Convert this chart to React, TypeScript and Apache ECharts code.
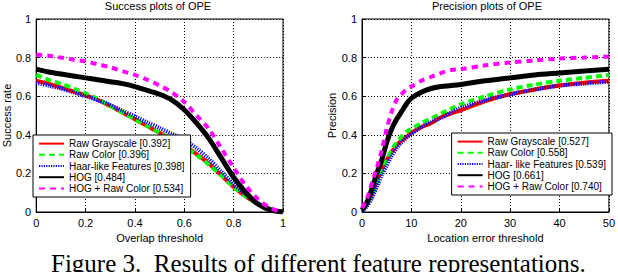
import React, { useEffect, useRef } from "react";
import * as echarts from "echarts";

// Success plot (overlap threshold)
const overlapThresholds = [0, 0.05, 0.1, 0.15, 0.2, 0.25, 0.3, 0.35, 0.4, 0.45, 0.5, 0.55, 0.6, 0.65, 0.7, 0.75, 0.8, 0.85, 0.9, 0.95, 1];
const succRawGray = [0.68, 0.665, 0.645, 0.625, 0.605, 0.58, 0.55, 0.515, 0.48, 0.445, 0.41, 0.38, 0.345, 0.3, 0.25, 0.19, 0.13, 0.08, 0.04, 0.015, 0];
const succRawColor = [0.71, 0.685, 0.665, 0.64, 0.615, 0.585, 0.55, 0.515, 0.48, 0.445, 0.41, 0.375, 0.34, 0.295, 0.245, 0.19, 0.13, 0.08, 0.04, 0.015, 0];
const succHaar = [0.67, 0.655, 0.64, 0.62, 0.6, 0.58, 0.555, 0.525, 0.495, 0.465, 0.435, 0.405, 0.375, 0.33, 0.275, 0.21, 0.145, 0.09, 0.045, 0.015, 0];
const succHog = [0.74, 0.725, 0.715, 0.705, 0.695, 0.685, 0.675, 0.665, 0.65, 0.63, 0.61, 0.58, 0.53, 0.46, 0.38, 0.28, 0.18, 0.1, 0.04, 0.01, 0];
const succHogRaw = [0.815, 0.81, 0.8, 0.79, 0.78, 0.765, 0.75, 0.73, 0.71, 0.685, 0.655, 0.62, 0.57, 0.5, 0.43, 0.33, 0.23, 0.135, 0.065, 0.02, 0];

// Precision plot (location error threshold)
const errorThresholds = [0, 1, 2, 3, 4, 5, 6, 7, 8, 9, 10, 12, 14, 16, 18, 20, 25, 30, 35, 40, 45, 50];
const precRawGray = [0.01, 0.04, 0.09, 0.16, 0.22, 0.27, 0.31, 0.345, 0.37, 0.39, 0.41, 0.44, 0.46, 0.49, 0.51, 0.527, 0.575, 0.61, 0.635, 0.655, 0.67, 0.68];
const precRawColor = [0.01, 0.04, 0.09, 0.15, 0.21, 0.27, 0.32, 0.36, 0.39, 0.415, 0.43, 0.46, 0.485, 0.51, 0.535, 0.558, 0.6, 0.635, 0.66, 0.68, 0.695, 0.71];
const precHaar = [0.005, 0.03, 0.07, 0.13, 0.19, 0.24, 0.29, 0.33, 0.36, 0.385, 0.405, 0.44, 0.465, 0.49, 0.515, 0.539, 0.58, 0.61, 0.635, 0.655, 0.665, 0.675];
const precHog = [0.01, 0.05, 0.12, 0.2, 0.27, 0.36, 0.43, 0.48, 0.52, 0.56, 0.59, 0.62, 0.64, 0.65, 0.655, 0.661, 0.68, 0.695, 0.71, 0.72, 0.73, 0.74];
const precHogRaw = [0.02, 0.07, 0.15, 0.23, 0.32, 0.43, 0.52, 0.58, 0.61, 0.635, 0.65, 0.68, 0.7, 0.72, 0.735, 0.74, 0.76, 0.775, 0.785, 0.795, 0.8, 0.805];

const successNames = ["Raw Grayscale [0.392]", "Raw Color [0.396]", "Haar-like Features [0.398]", "HOG [0.484]", "HOG + Raw Color [0.534]"];
const precisionNames = ["Raw Grayscale [0.527]", "Raw Color [0.558]", "Haar- like Features [0.539]", "HOG [0.661]", "HOG + Raw Color [0.740]"];
const successValues = [succRawGray, succRawColor, succHaar, succHog, succHogRaw];
const precisionValues = [precRawGray, precRawColor, precHaar, precHog, precHogRaw];

const colors = ["#ff0000", "#00ff00", "#0000ff", "#000000", "#ff00ff"];
const dashTypes: any[] = ["solid", [6, 4], [1.2, 1.2], "solid", [6, 5]];
const widths = [4, 4, 4, 5, 4];

const FONT = "Liberation Sans";

export default function App() {
  const ref = useRef<HTMLDivElement>(null);
  useEffect(() => {
    if (!ref.current) return;
    const chart = echarts.init(ref.current, null, { renderer: "svg" });

    const mkSeries = (names: string[], values: number[][], xs: number[], idx: number) =>
      names.map((name, i) => ({
        name,
        type: "line",
        xAxisIndex: idx,
        yAxisIndex: idx,
        data: xs.map((x, j) => [x, values[i][j]]),
        symbol: "circle",
        showSymbol: false,
        smooth: 0.3,
        color: colors[i],
        lineStyle: { color: colors[i], width: widths[i], type: dashTypes[i] },
      }));

    const axisCommon = {
      type: "value",
      axisLine: { show: true, onZero: false, lineStyle: { color: "#000", width: 1 } },
      axisTick: { show: true, inside: true, length: 4, lineStyle: { color: "#000" } },
      splitLine: { show: true, lineStyle: { color: "#000", type: [1, 2], width: 1 } },
      axisLabel: { color: "#000", fontSize: 11, fontFamily: FONT, margin: 5 },
      nameTextStyle: { color: "#000", fontSize: 11, fontFamily: FONT },
      nameLocation: "middle",
    };

    const legendCommon = {
      orient: "vertical",
      itemGap: 0,
      itemWidth: 25,
      itemHeight: 14,
      padding: [3, 6, 3, 5],
      borderColor: "#000",
      borderWidth: 1,
      borderRadius: 0,
      backgroundColor: "#fff",
      selectedMode: false,
      itemStyle: { opacity: 0, borderWidth: 0 },
      textStyle: { color: "#000", fontSize: 10, fontFamily: FONT },
    };

    chart.setOption({
      animation: false,
      backgroundColor: "#fff",
      grid: [
        { left: 33, top: 19, width: 250, height: 193, show: true, borderColor: "#000", borderWidth: 1, backgroundColor: "transparent" },
        { left: 362, top: 19, width: 250, height: 193, show: true, borderColor: "#000", borderWidth: 1, backgroundColor: "transparent" },
      ],
      xAxis: [
        { ...axisCommon, gridIndex: 0, min: 0, max: 1, interval: 0.2, name: "Overlap threshold", nameGap: 15 },
        { ...axisCommon, gridIndex: 1, min: 0, max: 50, interval: 10, name: "Location error threshold", nameGap: 15 },
      ],
      yAxis: [
        { ...axisCommon, gridIndex: 0, min: 0, max: 1, interval: 0.2, name: "Success rate", nameGap: 21 },
        { ...axisCommon, gridIndex: 1, min: 0, max: 1, interval: 0.2, name: "Precision", nameGap: 24 },
      ],
      legend: [
        { ...legendCommon, left: 33, top: 135, data: successNames },
        { ...legendCommon, right: 6, top: 133, data: precisionNames },
      ],
      graphic: [
        { type: "text", x: 158, y: 6, style: { text: "Success plots of OPE", fill: "#000", font: `11px "${FONT}"`, textAlign: "center", textVerticalAlign: "middle" } },
        { type: "text", x: 487, y: 6, style: { text: "Precision plots of OPE", fill: "#000", font: `11px "${FONT}"`, textAlign: "center", textVerticalAlign: "middle" } },
        { type: "text", x: 51, y: 276, style: { text: "Figure 3.  Results of different feature representations.", fill: "#000", font: `25px "Liberation Serif"`, textAlign: "left", textVerticalAlign: "bottom" } },
      ],
      series: [
        ...mkSeries(successNames, successValues, overlapThresholds, 0),
        ...mkSeries(precisionNames, precisionValues, errorThresholds, 1),
      ],
    });
    return () => chart.dispose();
  }, []);
  return <div ref={ref} style={{ position: "fixed", left: 0, top: 0, width: 618, height: 272 }} />;
}
